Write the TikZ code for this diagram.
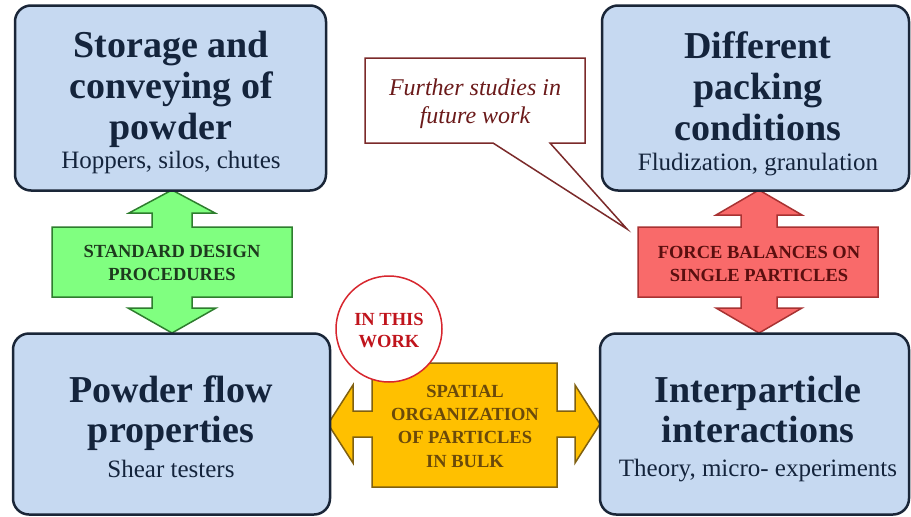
\documentclass[tikz,border=0pt]{standalone}
\usepackage{fontspec}
\setmainfont{Liberation Serif}
\definecolor{boxfill}{HTML}{C6D9F1}
\definecolor{boxline}{HTML}{1A2638}
\definecolor{navy}{HTML}{14243C}
\definecolor{gfill}{HTML}{80FF80}
\definecolor{gline}{HTML}{2E7D2E}
\definecolor{gtext}{HTML}{1E3A1E}
\definecolor{rfill}{HTML}{F96A6A}
\definecolor{rline}{HTML}{A83232}
\definecolor{rtext}{HTML}{5A0F0F}
\definecolor{ofill}{HTML}{FFC000}
\definecolor{oline}{HTML}{806010}
\definecolor{otext}{HTML}{6B4A0A}
\definecolor{cline}{HTML}{D7262E}
\definecolor{ctext}{HTML}{C0141C}
\definecolor{kline}{HTML}{7B2A2A}
\definecolor{ktext}{HTML}{6B1A1A}
\begin{document}
\begin{tikzpicture}[x=1pt,y=-1pt,
  box/.style={draw=boxline, line width=2.5pt, fill=boxfill, rounded corners=16pt},
  title/.style={anchor=base, text=navy, inner sep=0pt, font=\fontsize{38}{41}\selectfont\bfseries},
  sub/.style={anchor=base, text=navy, inner sep=0pt, font=\fontsize{25}{28}\selectfont},
  lab/.style={anchor=base, inner sep=0pt, font=\fontsize{18.5}{22}\selectfont\bfseries},
  garrow/.style={draw=gline, line width=1.5pt, fill=gfill},
  rarrow/.style={draw=rline, line width=1.5pt, fill=rfill},
  oarrow/.style={draw=oline, line width=1.5pt, fill=ofill}]
\useasboundingbox (0,0) rectangle (911,517);
\fill[white] (0,0) rectangle (911,517);

% green up-down arrow
\draw[garrow] (172,190) -- (215,213) -- (192,213) -- (192,227) -- (292,227) -- (292,297)
  -- (192,297) -- (192,308) -- (216,308) -- (172,333) -- (128,308) -- (152,308) -- (152,297)
  -- (52,297) -- (52,227) -- (152,227) -- (152,213) -- (129,213) -- cycle;
% red up-down arrow
\draw[rarrow] (759,190) -- (802,215) -- (777,215) -- (777,227) -- (878,227) -- (878,297)
  -- (777,297) -- (777,308) -- (802,308) -- (759,333) -- (716,308) -- (741,308) -- (741,297)
  -- (638,297) -- (638,227) -- (741,227) -- (741,215) -- (716,215) -- cycle;
% orange left-right arrow
\draw[oarrow] (328,424) -- (353,385) -- (353,411) -- (372,411) -- (372,363) -- (557,363)
  -- (557,411) -- (575,411) -- (575,385) -- (600,424) -- (575,463) -- (575,437) -- (557,437)
  -- (557,487) -- (372,487) -- (372,437) -- (353,437) -- (353,463) -- cycle;

% boxes
\node[box, minimum width=311pt, minimum height=185pt] (tl) at (170.5,98) {};
\node[box, minimum width=307pt, minimum height=185pt] (tr) at (755.5,98) {};
\node[box, minimum width=317pt, minimum height=181pt] (bl) at (171.5,424) {};
\node[box, minimum width=309pt, minimum height=181pt] (br) at (754.5,424) {};

% box texts
\node[title] (tl1) at (171,57) {Storage and};
\node[title] (tl2) at (171,98) {conveying of};
\node[title] (tl3) at (171,139) {powder};
\node[sub] (tl4) at (171,168) {Hoppers, silos, chutes};

\node[title] (tr1) at (758,58) {Different};
\node[title] (tr2) at (758,99) {packing};
\node[title] (tr3) at (758,140) {conditions};
\node[sub] (tr4) at (758,170) {Fludization, granulation};

\node[title] (bl1) at (171,402) {Powder flow};
\node[title] (bl2) at (171,442) {properties};
\node[sub] (bl3) at (171,477) {Shear testers};

\node[title] (br1) at (758,402) {Interparticle};
\node[title] (br2) at (758,442) {interactions};
\node[sub] (br3) at (758,476) {Theory, micro- experiments};

% arrow texts
\node[lab, text=gtext] (g1) at (172,257) {STANDARD DESIGN};
\node[lab, text=gtext] (g2) at (172,280) {PROCEDURES};
\node[lab, text=rtext] (r1) at (759,258) {FORCE BALANCES ON};
\node[lab, text=rtext] (r2) at (759,281) {SINGLE PARTICLES};
\node[lab, text=otext] (o1) at (465,397) {SPATIAL};
\node[lab, text=otext] (o2) at (465,420) {ORGANIZATION};
\node[lab, text=otext] (o3) at (465,443) {OF PARTICLES};
\node[lab, text=otext] (o4) at (465,467) {IN BULK};

% circle
\node[circle, draw=cline, line width=1.5pt, fill=white, minimum size=106pt] (circ) at (389,329) {};
\node[lab, text=ctext] (c1) at (389,325) {IN THIS};
\node[lab, text=ctext] (c2) at (389,347) {WORK};

% callout
\coordinate (tip) at (627,229);
\draw[draw=kline, line width=1.5pt, fill=white] (365,58) -- (585,58) -- (585,143) -- (550,143)
  -- (tip) -- (493,143) -- (365,143) -- cycle;
\node[anchor=base, inner sep=0pt, text=ktext, font=\fontsize{24}{28}\selectfont\itshape] (k1) at (475,95) {Further studies in};
\node[anchor=base, inner sep=0pt, text=ktext, font=\fontsize{24}{28}\selectfont\itshape] (k2) at (475,123) {future work};
\end{tikzpicture}
\end{document}
